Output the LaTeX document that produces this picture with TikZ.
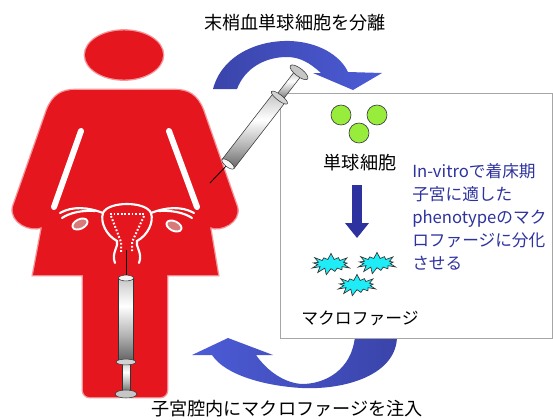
\documentclass[tikz,border=0pt]{standalone}
\usepackage{fontspec}
\setmainfont{Noto Sans CJK JP}
\usetikzlibrary{arrows.meta,shapes.symbols}

\definecolor{figred}{RGB}{230,22,30}
\definecolor{arrowdark}{RGB}{58,68,170}
\definecolor{arrowlight}{RGB}{76,92,214}
\definecolor{textblue}{RGB}{46,50,158}
\definecolor{cellgreen}{RGB}{152,236,60}
\definecolor{cellcyan}{RGB}{30,236,246}
\definecolor{ovarypink}{RGB}{214,122,122}

\pgfdeclareverticalshading{barrel}{100bp}{color(0bp)=(gray!80!black); color(25bp)=(gray!80!black); color(40bp)=(gray!60); color(58bp)=(white); color(68bp)=(gray!25); color(75bp)=(gray!45); color(100bp)=(gray!45)}

\def \torso {(33,275) -- (42,227) .. controls (30,232) and (10,222) .. (13,207) -- (47,110) .. controls (53,95) and (62,90) .. (75,90) -- (175,90) .. controls (188,90) and (197,95) .. (203,110) -- (237,207) .. controls (241,222) and (220,232) .. (210,227) -- (218,275) -- cycle}
\def \leftleg {(83,262) rectangle (125.5,397)}
\def \rightleg {(124.5,262) rectangle (167,397)}

\tikzset{
  jptext/.style={font=\fontsize{13.6pt}{17.25pt}\selectfont, inner sep=0pt},
  cell/.style={circle, draw=black!75, fill=cellgreen, minimum size=15pt, inner sep=0pt, line width=0.5pt},
  macrocell/.style={starburst, draw=black!80, fill=cellcyan, minimum width=30pt, minimum height=17pt,
    starburst points=13, starburst point height=5pt, random starburst=40, inner sep=0pt, line width=0.5pt},
  halo/.style={draw=figred!45, line width=2pt},
  uterusline/.style={white, line width=1.6pt, line cap=round},
  dots/.style={white, line width=1.5pt, dash pattern=on 1.3pt off 1.4pt},
  needle/.style={black, line width=0.6pt},
  syringe/.pic={
    % barrel and its open end
    \shade[shading=barrel] (0,-7.5) rectangle (82,7.5);
    \draw[gray!40!black, line width=0.4pt] (0,-7.5) -- (82,-7.5) (0,7.5) -- (82,7.5);
    % plunger rod
    \shade[shading=barrel] (84,-4) rectangle (114,4);
    \draw[gray!40!black, line width=0.4pt] (84,-4) -- (114,-4) (84,4) -- (114,4);
    % finger flange and thumb cap
    \filldraw[fill=gray!35, draw=gray!40!black, line width=0.4pt] (84,0) ellipse [x radius=2.2pt, y radius=7.5pt];
    \filldraw[fill=gray!45, draw=gray!40!black, line width=0.4pt] (116,0) ellipse [x radius=3pt, y radius=8.2pt];
    \filldraw[fill=gray!8, draw=gray!40!black, line width=0.4pt] (0,0) ellipse [x radius=2.2pt, y radius=5.6pt];
  }
}

\begin{document}
\begin{tikzpicture}[x=0.75pt, y=-0.75pt]
  \useasboundingbox (0,0) rectangle (553,419);

  % curved arrows
  \shade[left color=arrowdark, right color=arrowlight] (213,89) .. controls (222,55) and (258,40) .. (290,41)
    .. controls (318,42) and (340,55) .. (348,72) -- (382,73) -- (353,90) -- (313,73) -- (321,73)
    .. controls (310,63) and (300,57) .. (287,57) .. controls (265,57) and (245,68) .. (237,89) -- cycle;
  \shade[left color=arrowlight, right color=arrowdark] (397,336) .. controls (397,375) and (345,390) .. (302,388)
    .. controls (265,386) and (225,375) .. (212,355) -- (192,355) -- (228,338) -- (273,355) -- (256,355)
    .. controls (268,372) and (285,383) .. (302,384) .. controls (325,384) and (352,370) .. (355,336) -- cycle;

  % culture box
  \draw[gray!70, fill=white, line width=0.6pt] (280,93) rectangle (552,338);

  \node[cell] (c1) at (341,115) {};
  \node[cell] (c2) at (377,115) {};
  \node[cell] (c3) at (359,133) {};
  \node[jptext] (mono) at (360,163) {単球細胞};

  \coordinate (dtop) at (357,185);
  \coordinate (dbot) at (357,238);
  \draw[-{Triangle[length=11.25pt,width=17.25pt]}, line width=7.5pt, textblue] (dtop) -- (dbot);

  \node[macrocell] (m1) at (331,264) {};
  \node[macrocell] (m2) at (377,263) {};
  \node[macrocell] (m3) at (357,285) {};
  \node[jptext, font=\fontsize{12.6pt}{15pt}\selectfont] (macro) at (360,318) {マクロファージ};

  \node[jptext, font=\fontsize{12.5pt}{17.25pt}\selectfont, text=textblue, align=left, anchor=west] (note) at (412,217)
    {In-vitroで着床期\\子宮に適した\\phenotypeのマク\\ロファージに分化\\させる};

  \node[jptext] (title) at (295,23) {末梢血単球細胞を分離};
  \node[jptext] (inject) at (287,409) {子宮腔内にマクロファージを注入};

  % figure
  \draw[halo] (124,55) ellipse [x radius=29.25pt, y radius=18.4pt];
  \draw[halo] \torso;
  \draw[halo, rounded corners=5pt] \leftleg;
  \draw[halo, rounded corners=5pt] \rightleg;
  \fill[figred] (124,55) ellipse [x radius=29.25pt, y radius=18.4pt];
  \fill[figred, rounded corners=5pt] \leftleg;
  \fill[figred, rounded corners=5pt] \rightleg;
  \fill[figred] \torso;
  \draw[white, line width=4.5pt, line cap=round] (81,131) -- (54,207);
  \draw[white, line width=4.5pt, line cap=round] (169,131) -- (197,207);

  % uterus, tubes and ovaries
  \draw[uterusline] (115,263) .. controls (111,253) and (119,246) .. (117,241)
    .. controls (106,235) and (100,222) .. (103,213) .. controls (108,201) and (146,201) .. (151,213)
    .. controls (154,222) and (148,235) .. (137,241) .. controls (135,246) and (143,253) .. (139,263);
  \draw[uterusline] (103,213) .. controls (88,207) and (72,206) .. (60,213);
  \draw[uterusline] (95,211) .. controls (82,210) and (69,213) .. (62,218);
  \draw[uterusline] (151,213) .. controls (166,207) and (182,206) .. (194,213);
  \draw[uterusline] (159,211) .. controls (172,210) and (185,213) .. (192,218);
  \filldraw[fill=ovarypink, draw=white, line width=1.4pt] (80,224) ellipse [x radius=6pt, y radius=3.6pt, rotate=25];
  \filldraw[fill=ovarypink, draw=white, line width=1.4pt] (174,226) ellipse [x radius=6pt, y radius=3.6pt, rotate=-25];
  \draw[dots] (110,214) -- (145,214);
  \draw[dots] (111,216) -- (121,242) -- (121,252);
  \draw[dots] (144,216) -- (132,242) -- (132,252);

  % needles and syringes
  \coordinate (cervix) at (126,250);
  \coordinate (uterotip) at (126,278);
  \coordinate (armsite) at (210,183);
  \coordinate (armtip) at (228,164);
  \draw[needle] (cervix) -- (uterotip);
  \draw[needle] (armtip) -- (armsite);
  \pic[rotate=-90] at (uterotip) {syringe};
  \pic[rotate=52.25] at (armtip) {syringe};
\end{tikzpicture}
\end{document}
